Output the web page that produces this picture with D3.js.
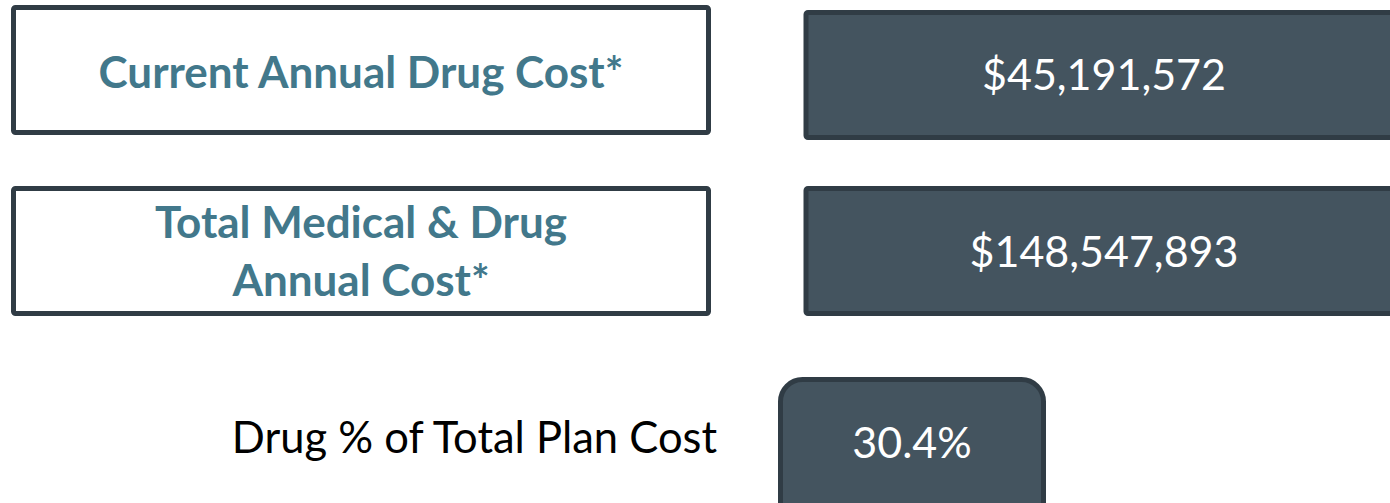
<!DOCTYPE html>
<html>
<head>
<meta charset="utf-8">
<script src="https://cdn.jsdelivr.net/npm/d3@7"></script>
<style>
  html, body { margin: 0; padding: 0; background: #fff; }
  svg { display: block; font-family: Lato, "Open Sans", sans-serif; }
</style>
</head>
<body>
<div id="chart"></div>
<script>
var labels = [["Current Annual Drug Cost*"], ["Total Medical & Drug", "Annual Cost*"]];
var values = ["$45,191,572", "$148,547,893"];
var ratioLabel = "Drug % of Total Plan Cost";
var ratioValue = "30.4%";

var width = 1390, height = 503;
var svg = d3.select("#chart").append("svg")
    .attr("width", width)
    .attr("height", height);

var dark = "#44545f", edge = "#303c45", teal = "#42788b";

// two rows of boxes, 130px tall, 51px apart
var y = d3.scaleBand()
    .domain(d3.range(labels.length))
    .range([5, 316])
    .paddingInner(51 / 181);

var row = svg.selectAll(".row")
    .data(labels)
  .enter().append("g")
    .attr("class", "row")
    .attr("transform", function(d, i) { return "translate(0," + y(i) + ")"; });

// left label boxes
row.append("rect")
    .attr("x", 13.5)
    .attr("y", 2.5)
    .attr("width", 695)
    .attr("height", y.bandwidth() - 5)
    .attr("fill", "#fff")
    .attr("stroke", edge)
    .attr("stroke-width", 5)
    .attr("rx", 2);

row.append("text")
    .attr("text-anchor", "middle")
    .attr("fill", teal)
    .attr("font-weight", "bold")
    .attr("font-size", 44)
    .selectAll("tspan")
    .data(function(d) { return d; })
  .enter().append("tspan")
    .attr("x", 361)
    .attr("y", function(d, i, n) { return n.length == 1 ? 83 : 52 + i * 58; })
    .text(function(d) { return d; });

// right value boxes
row.append("rect")
    .attr("x", 806)
    .attr("y", function(d, i) { return i == 0 ? 7.5 : 2.5; })
    .attr("width", 620)
    .attr("height", y.bandwidth() - 5)
    .attr("fill", dark)
    .attr("stroke", edge)
    .attr("stroke-width", 5)
    .attr("rx", 2);

row.append("text")
    .attr("x", 1104)
    .attr("y", function(d, i) { return i == 0 ? 85 : 81; })
    .attr("text-anchor", "middle")
    .attr("fill", "#fff")
    .attr("font-size", 43)
    .text(function(d, i) { return values[i]; });

// ratio row
var ratio = svg.append("g").attr("transform", "translate(0,380)");

ratio.append("text")
    .attr("x", 717)
    .attr("y", 73)
    .attr("text-anchor", "end")
    .attr("fill", "#000")
    .attr("font-size", 43.5)
    .text(ratioLabel);

ratio.append("rect")
    .attr("x", 780.5)
    .attr("y", -0.5)
    .attr("width", 263)
    .attr("height", 150)
    .attr("rx", 22)
    .attr("fill", dark)
    .attr("stroke", edge)
    .attr("stroke-width", 5);

ratio.append("text")
    .attr("x", 912)
    .attr("y", 78)
    .attr("text-anchor", "middle")
    .attr("fill", "#fff")
    .attr("font-size", 43)
    .text(ratioValue);
</script>
</body>
</html>
